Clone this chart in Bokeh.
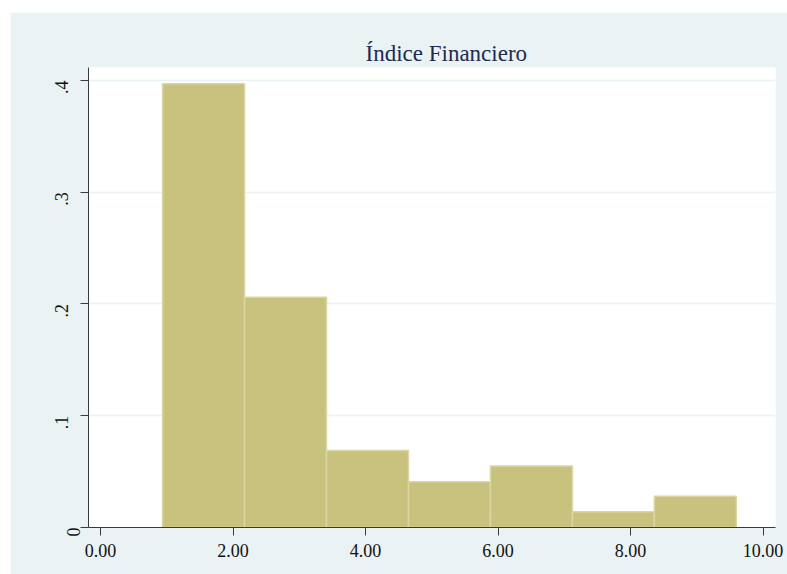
from bokeh.plotting import figure
from bokeh.models import FixedTicker, CustomJSTickFormatter, Range1d, ColumnDataSource, LinearAxis, Spacer
from bokeh.layouts import column, row
from bokeh.embed import file_html
from bokeh.resources import INLINE
import math

# ---- data ----
bin_left = [0.937, 2.174, 3.411, 4.648, 5.885, 7.122, 8.359]
bin_right = [2.174, 3.411, 4.648, 5.885, 7.122, 8.359, 9.596]
density = [0.397, 0.206, 0.069, 0.041, 0.055, 0.014, 0.028]
x_ticks = [0, 2, 4, 6, 8, 10]
y_ticks = [0, 0.1, 0.2, 0.3, 0.4]
title_text = "Índice Financiero"

PANEL = "#EAF2F3"
FONT = "Liberation Serif"
AXIS = "#3A3A3A"

p = figure(width=777, height=562, output_backend="svg", toolbar_location=None,
           x_range=Range1d(-0.181, 10.187), y_range=Range1d(0, 0.4116),
           min_border_left=78, min_border_right=12, min_border_top=55, min_border_bottom=47)

p.background_fill_color = "white"
p.border_fill_color = PANEL
p.outline_line_color = None

src = ColumnDataSource(dict(left=bin_left, right=bin_right, top=density, bottom=[0] * len(density)))
p.quad(left="left", right="right", top="top", bottom="bottom", source=src,
       fill_color="#C9C27F", line_color="#DCD6A2", line_width=1.5)

# title
p.title.text = title_text
p.title.text_font = FONT
p.title.text_font_style = "normal"
p.title.text_font_size = "23px"
p.title.text_color = "#1E2A52"
p.title.align = "left"
p.title.offset = 277
p.title.standoff = 4

# x axis
xa = p.xaxis[0]
xa.ticker = FixedTicker(ticks=x_ticks)
xa.formatter = CustomJSTickFormatter(code="return tick.toFixed(2);")
xa.major_label_text_font = FONT
xa.major_label_text_font_size = "18px"
xa.major_label_text_color = "#111111"
xa.axis_line_color = AXIS
xa.major_tick_line_color = AXIS
xa.major_tick_out = 8
xa.major_tick_in = 0
xa.minor_tick_line_color = None
xa.major_label_standoff = 8

# inner y axis: line, ticks and the "0" label
ya = p.yaxis[0]
ya.ticker = FixedTicker(ticks=y_ticks)
ya.formatter = CustomJSTickFormatter(code="return tick == 0 ? '0' : '';")
ya.major_label_orientation = math.pi / 2
ya.major_label_text_font = FONT
ya.major_label_text_font_size = "18px"
ya.major_label_text_color = "#111111"
ya.axis_line_color = AXIS
ya.major_tick_line_color = AXIS
ya.major_tick_out = 8
ya.major_tick_in = 0
ya.minor_tick_line_color = None
ya.major_label_standoff = 7

# outer y axis: the decimal labels, set further out as in the reference
ya2 = LinearAxis(ticker=FixedTicker(ticks=y_ticks[1:]),
                 formatter=CustomJSTickFormatter(code="return tick.toFixed(1).replace(/^0/, '');"))
ya2.major_label_orientation = math.pi / 2
ya2.major_label_text_font = FONT
ya2.major_label_text_font_size = "18px"
ya2.major_label_text_color = "#111111"
ya2.axis_line_color = None
ya2.major_tick_line_color = None
ya2.major_tick_out = 0
ya2.major_tick_in = 0
ya2.minor_tick_line_color = None
ya2.major_label_standoff = -4
p.add_layout(ya2, "left")

p.xgrid.grid_line_color = None
p.ygrid.ticker = FixedTicker(ticks=y_ticks)
p.ygrid.grid_line_color = PANEL
p.ygrid.grid_line_width = 1.5

layout = column(Spacer(height=12, width=787), row(Spacer(width=10, height=562), p), spacing=0)

open("out.html", "w").write(file_html(layout, INLINE))
